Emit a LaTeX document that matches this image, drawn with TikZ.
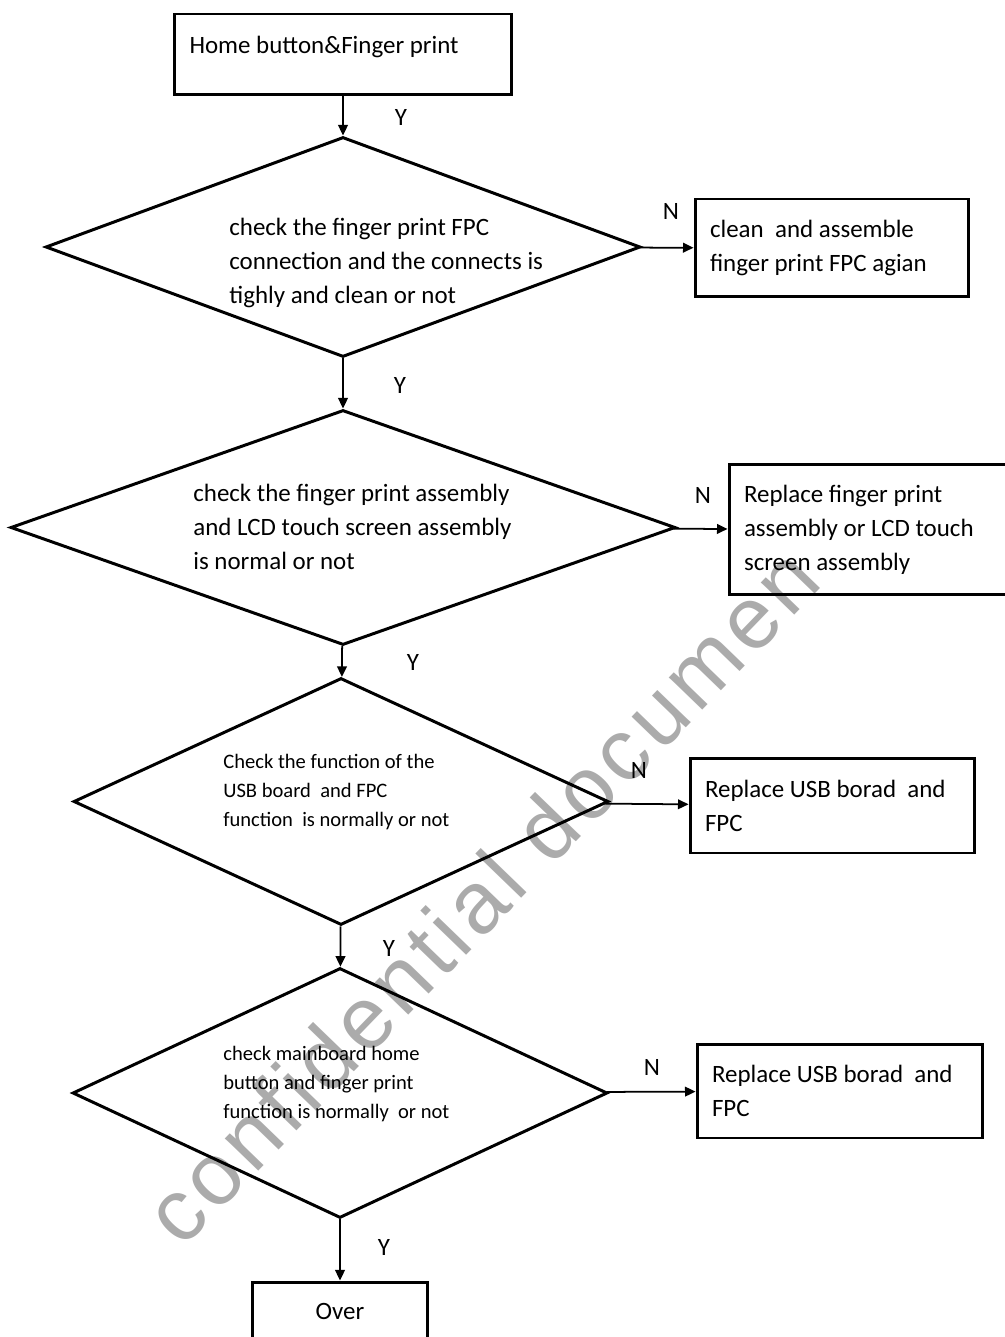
\documentclass[tikz,border=0pt]{standalone}
\usepackage{fontspec}
\setmainfont{Carlito}
\newfontfamily\markfont[LetterSpace=6]{Liberation Sans}
\usetikzlibrary{shapes.geometric,arrows.meta}
\definecolor{markgray}{HTML}{ABABAB}

\begin{document}
\begin{tikzpicture}[%
    x=0.02cm, y=-0.02cm,
    block/.style={
      rectangle,
      draw=black,
      line width=1.7pt,
      inner xsep=0.3cm,
      inner ysep=0pt,
      align=flush left,
      font=\fontsize{14.2}{19.35}\selectfont
    },
    decision/.style={
      diamond,
      draw=black,
      line width=1.7pt,
      inner sep=0pt
    },
    question/.style={
      anchor=west,
      inner sep=0pt,
      align=flush left,
      font=\fontsize{14.2}{19.35}\selectfont
    },
    smallquestion/.style={
      question,
      font=\fontsize{11.7}{16.5}\selectfont
    },
    answer/.style={
      inner sep=0pt,
      font=\fontsize{14.2}{17}\selectfont
    },
    line/.style={
      draw,
      line width=1pt,
      -{Triangle[length=6pt,width=5.5pt]}
    }
  ]
  \useasboundingbox (0,0) rectangle (1004,1337);
  % watermark
  \node[rotate=46, anchor=base west, text=markgray, inner sep=0pt,
    font=\markfont\fontsize{50}{50}\selectfont] (mark) at (182,1250) {confidential documen};

  % main column
  \draw (343,54.5) node[block, text width=6.14cm, text height=0.42cm, text depth=0.44cm, minimum width=6.74cm, minimum height=1.62cm] (start) {Home button\&Finger print};
  \draw (343,247) node[decision, minimum width=11.9cm, minimum height=4.4cm] (q1) {};
  \draw (343,527.5) node[decision, minimum width=13.3cm, minimum height=4.7cm] (q2) {};
  \draw (341,801.5) node[decision, minimum width=10.7cm, minimum height=4.94cm] (q3) {};
  \draw (340,1093) node[decision, minimum width=10.7cm, minimum height=5cm] (q4) {};
  \draw (340,1311) node[block, align=center, minimum width=3.5cm, minimum height=1.16cm] (over) {Over};

  % questions
  \node[question] (t1) at (229,263) {check the finger print FPC\\connection and the connects is\\tighly and clean or not};
  \node[question] (t2) at (193,527) {check the finger print assembly\\and LCD touch screen assembly\\is normal or not};
  \node[smallquestion] (t3) at (223,792) {Check the function of the\\USB board\ \ and FPC\\function\ \ is normally or not};
  \node[smallquestion] (t4) at (223,1084) {check mainboard home\\button and finger print\\function is normally\ \ or not};

  % repairs
  \draw (832,248) node[block, text width=4.88cm, minimum width=5.48cm, minimum height=1.96cm] (r1) {clean\ \ and assemble\\finger print FPC agian};
  \draw (869.5,529.5) node[block, text width=5.02cm, minimum width=5.62cm, minimum height=2.62cm] (r2) {Replace finger print\\assembly or LCD touch\\screen assembly};
  \draw (832.5,805.5) node[block, text width=5.1cm, minimum width=5.7cm, minimum height=1.9cm] (r3) {Replace USB borad\ \ and\\FPC};
  \draw (840,1091) node[block, text width=5.12cm, minimum width=5.72cm, minimum height=1.88cm] (r4) {Replace USB borad\ \ and\\FPC};

  % connectors
  \path[line] (start) -- (q1);
  \path[line] (q1) -- (q2);
  \path[line] (q2) -- (q3);
  \path[line] (q3) -- (q4);
  \path[line] (q4) -- (over);
  \path[line] (q1) -- (r1);
  \path[line] (q2) -- (r2);
  \path[line] (q3) -- (r3);
  \path[line] (q4) -- (r4);

  % answers
  \node[answer] (y1) at (401,118) {Y};
  \node[answer] (y2) at (400,385) {Y};
  \node[answer] (y3) at (413,662) {Y};
  \node[answer] (y4) at (389,948) {Y};
  \node[answer] (y5) at (384,1247) {Y};
  \node[answer] (n1) at (671,212) {N};
  \node[answer] (n2) at (703,495) {N};
  \node[answer] (n3) at (639,770) {N};
  \node[answer] (n4) at (652,1067) {N};
\end{tikzpicture}
\end{document}
